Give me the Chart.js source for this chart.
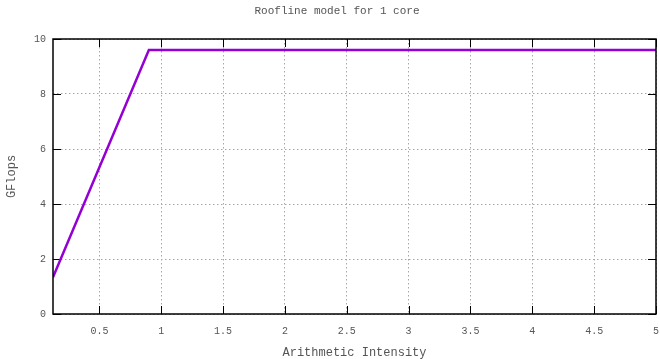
<!DOCTYPE html>
<html>
<head>
<meta charset="utf-8">
<script src="https://cdn.jsdelivr.net/npm/chart.js@4"></script>
<style>
    html, body { margin: 0; padding: 0; background: #fff; }
    #wrap { width: 660px; height: 359px; }
</style>
</head>
<body>
<div id="wrap"><canvas id="roofChart"></canvas></div>
<script>
const intensity = [0.125, 0.9, 5];
const gflops = [1.34, 9.6, 9.6];
const xTicks = [0.5, 1, 1.5, 2, 2.5, 3, 3.5, 4, 4.5, 5];
const yTicks = [0, 2, 4, 6, 8, 10];

const mono = 'Liberation Mono, Courier New, monospace';
const textColor = '#555';
const gridColor = '#a8a8a8';

// gnuplot style frame: full border, inward ticks, title
const gnuFrame = {
    id: 'gnuFrame',
    beforeDatasetsDraw(chart) {
        const {ctx, chartArea: a, scales: {x, y}} = chart;
        ctx.save();
        ctx.strokeStyle = '#000';
        ctx.lineWidth = 1;
        ctx.beginPath();
        xTicks.forEach(v => {
            const px = Math.round(x.getPixelForValue(v)) + 0.5;
            ctx.moveTo(px, a.bottom); ctx.lineTo(px, a.bottom - 8);
            ctx.moveTo(px, a.top); ctx.lineTo(px, a.top + 8);
        });
        yTicks.forEach(v => {
            const py = Math.round(y.getPixelForValue(v)) + 0.5;
            ctx.moveTo(a.left, py); ctx.lineTo(a.left + 8, py);
            ctx.moveTo(a.right, py); ctx.lineTo(a.right - 8, py);
        });
        ctx.stroke();
        ctx.restore();
    },
    afterDraw(chart) {
        const {ctx, chartArea: a} = chart;
        ctx.save();
        ctx.strokeStyle = '#000';
        ctx.lineWidth = 1.5;
        ctx.strokeRect(a.left, a.top, a.right - a.left, a.bottom - a.top);
        ctx.fillStyle = textColor;
        ctx.font = '11px ' + mono;
        ctx.textAlign = 'center';
        ctx.textBaseline = 'middle';
        ctx.fillText('Roofline model for 1 core', 337, 11);
        ctx.restore();
    }
};

const config = {
    type: 'line',
    data: {
        datasets: [{
            label: 'roof',
            data: intensity.map((v, i) => ({x: v, y: gflops[i]})),
            borderColor: '#9400d3',
            borderWidth: 2.5,
            pointRadius: 0,
            tension: 0,
            fill: false
        }]
    },
    options: {
        responsive: true,
        maintainAspectRatio: false,
        animation: false,
        layout: { padding: { top: 39, right: 4, left: 0, bottom: 0 } },
        plugins: {
            legend: { display: false },
            tooltip: { enabled: false }
        },
        scales: {
            x: {
                type: 'linear',
                min: 0.125,
                max: 5,
                afterBuildTicks(scale) {
                    scale.ticks = xTicks.map(v => ({value: v}));
                },
                afterFit(scale) {
                    scale.height = 45;
                    scale.paddingLeft = 0;
                    scale.paddingRight = 0;
                },
                border: { display: false, dash: [1.5, 2.5] },
                grid: {
                    color: gridColor,
                    drawTicks: false
                },
                ticks: {
                    padding: 11,
                    color: textColor,
                    font: { family: mono, size: 10 },
                    maxRotation: 0,
                    callback: v => String(v)
                },
                title: {
                    display: true,
                    text: 'Arithmetic Intensity',
                    color: textColor,
                    font: { family: mono, size: 12 },
                    padding: { top: 0, bottom: -1 }
                }
            },
            y: {
                min: 0,
                max: 10,
                afterBuildTicks(scale) {
                    scale.ticks = yTicks.map(v => ({value: v}));
                },
                afterFit(scale) {
                    scale.width = 53;
                    scale.paddingTop = 0;
                    scale.paddingBottom = 0;
                },
                border: { display: false, dash: [1.5, 2.5] },
                grid: {
                    color: gridColor,
                    drawTicks: false
                },
                ticks: {
                    padding: 7,
                    color: textColor,
                    font: { family: mono, size: 10 }
                },
                title: {
                    display: true,
                    text: 'GFlops',
                    color: textColor,
                    font: { family: mono, size: 12 },
                    padding: { top: 5, bottom: 0 }
                }
            }
        }
    },
    plugins: [gnuFrame]
};

const ctx = document.getElementById('roofChart').getContext('2d');
new Chart(ctx, config);
</script>
</body>
</html>
